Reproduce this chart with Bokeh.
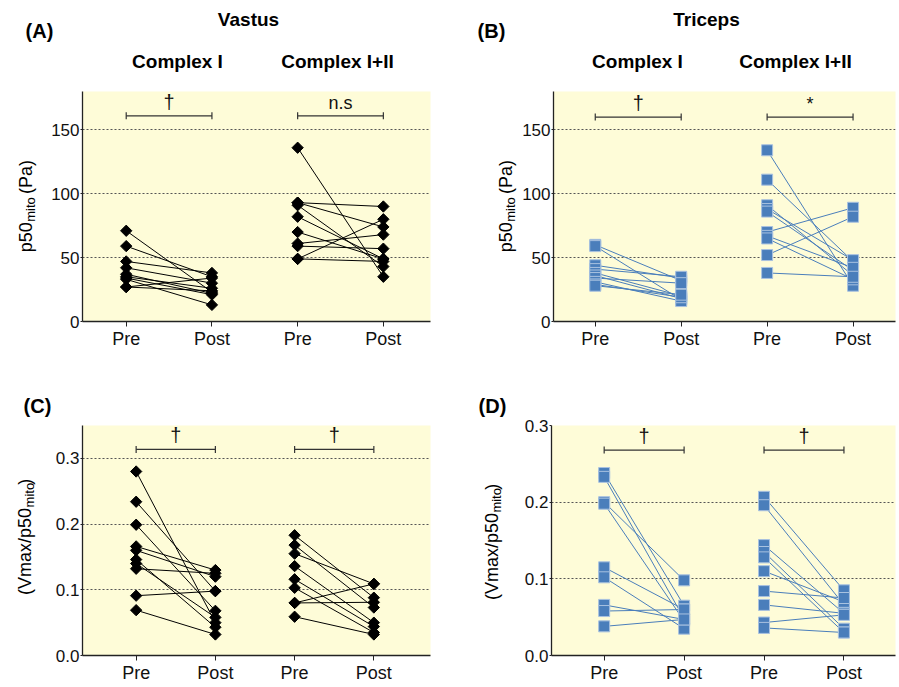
import math
from bokeh.plotting import figure
from bokeh.models import ColumnDataSource, Range1d, FixedTicker, Label, PrintfTickFormatter
from bokeh.layouts import column, row
from bokeh.core.properties import value
from bokeh.embed import file_html
from bokeh.resources import INLINE

FONT = "Liberation Sans"

# ---------------- data ----------------
x_tick_pos = [1, 2, 3, 4]
x_tick_labels = ["Pre", "Post", "Pre", "Post"]
y_ticks_p50 = [0, 50, 100, 150]
y_ticks_ratio = [0.0, 0.1, 0.2, 0.3]

# (A) Vastus, p50mito (Pa)
vastus_p50_ci_pre = [71, 59, 47, 42, 37, 35, 34, 33, 27, 27]
vastus_p50_ci_post = [23, 35, 38, 30, 22, 26, 21, 13, 24, 34]
vastus_p50_cii_pre = [136, 93, 93, 91, 82, 70, 61, 59, 49, 49]
vastus_p50_cii_post = [35, 90, 74, 43, 49, 49, 68, 57, 80, 47]

# (B) Triceps, p50mito (Pa)
triceps_p50_ci_pre = [60, 59, 44, 41, 38, 36, 34, 31, 29, 28]
triceps_p50_ci_post = [32, 17, 34, 35, 20, 18, 30, 16, 19, 21]
triceps_p50_cii_pre = [134, 111, 91, 88, 86, 70, 67, 65, 52, 38]
triceps_p50_cii_post = [28, 47, 36, 48, 40, 89, 42, 33, 82, 35]

# (C) Vastus, Vmax/p50mito
vastus_ratio_ci_pre = [0.280, 0.234, 0.199, 0.166, 0.160, 0.146, 0.140, 0.132, 0.091, 0.069]
vastus_ratio_ci_post = [0.050, 0.098, 0.068, 0.130, 0.120, 0.043, 0.058, 0.125, 0.098, 0.032]
vastus_ratio_cii_pre = [0.183, 0.168, 0.155, 0.136, 0.116, 0.103, 0.080, 0.080, 0.059]
vastus_ratio_cii_post = [0.088, 0.073, 0.109, 0.050, 0.044, 0.035, 0.109, 0.081, 0.032]

# (D) Triceps, Vmax/p50mito
triceps_ratio_ci_pre = [0.238, 0.233, 0.200, 0.198, 0.115, 0.102, 0.066, 0.058, 0.038]
triceps_ratio_ci_post = [0.065, 0.048, 0.098, 0.045, 0.060, 0.035, 0.047, 0.060, 0.047]
triceps_ratio_cii_pre = [0.207, 0.196, 0.144, 0.135, 0.128, 0.110, 0.084, 0.066, 0.043, 0.036]
triceps_ratio_cii_post = [0.085, 0.066, 0.055, 0.035, 0.030, 0.070, 0.075, 0.055, 0.053, 0.030]

# ---------------- styling helpers ----------------
YELLOW = "#FEFCD8"
BLUE = "#4A7EBB"
BLUE_EDGE = "#A9C2E0"

CHAR_W = {"p": 556, "5": 556, "0": 556, "m": 833, "i": 222, "t": 278, "o": 556,
          " ": 278, "(": 333, ")": 333, "P": 667, "a": 556, "V": 667, "x": 500, "/": 278}


def text_width(s, size):
    return sum(CHAR_W.get(c, 556) for c in s) * size / 1000.0


def make_fig(width, height, mbl, mbr, mbt, mbb, xr, yr, yticks, grid_ticks, fmt=None):
    p = figure(width=width, height=height, output_backend="svg", toolbar_location=None,
               x_range=Range1d(*xr), y_range=Range1d(*yr),
               min_border_left=mbl, min_border_right=mbr, min_border_top=mbt, min_border_bottom=mbb)
    p.background_fill_color = YELLOW
    p.border_fill_color = "white"
    p.outline_line_color = None
    p.xgrid.visible = False
    p.ygrid.ticker = FixedTicker(ticks=grid_ticks)
    p.ygrid.grid_line_color = "#555555"
    p.ygrid.grid_line_dash = "2 2"
    p.ygrid.grid_line_width = 1
    p.xaxis.ticker = FixedTicker(ticks=x_tick_pos)
    p.xaxis.major_label_overrides = {k: v for k, v in zip(x_tick_pos, x_tick_labels)}
    p.yaxis.ticker = FixedTicker(ticks=yticks)
    if fmt:
        p.yaxis.formatter = PrintfTickFormatter(format=fmt)
    for ax in (p.xaxis, p.yaxis):
        ax.axis_line_color = "#222222"
        ax.axis_line_width = 1.3
        ax.major_tick_line_color = "#222222"
        ax.major_tick_in = 0
        ax.minor_tick_line_color = None
        ax.major_label_text_font = FONT
        ax.major_label_text_color = "#111111"
    p.xaxis.major_tick_out = 5
    p.xaxis.major_label_text_font_size = "18px"
    p.xaxis.major_label_standoff = 2
    p.yaxis.major_tick_out = 2
    p.yaxis.major_label_text_font_size = "17px"
    p.yaxis.major_label_standoff = 1
    return p


def text_fig(width, height):
    t = figure(width=width, height=height, output_backend="svg", toolbar_location=None,
               x_range=Range1d(0, width), y_range=Range1d(0, height),
               x_axis_type=None, y_axis_type=None,
               min_border_left=0, min_border_right=0, min_border_top=0, min_border_bottom=0)
    t.grid.visible = False
    t.outline_line_color = None
    t.background_fill_color = "white"
    t.border_fill_color = "white"
    return t


def put_text(t, x, y, text, size, bold=False, angle=0.0, align="center", baseline="middle"):
    t.text(x=[x], y=[y], text=[text], angle=angle, text_align=align, text_baseline=baseline,
           text_font=value(FONT), text_font_size=value(f"{size}px"),
           text_font_style="bold" if bold else "normal", text_color="black")


def put_ylabel(t, main, sub, tail, xc, yc, size=18, subsize=13):
    """Vertical label: main text, subscript, tail text (reading bottom to top)."""
    w_main = text_width(main, size)
    w_sub = text_width(sub, subsize) * 1.1
    lead = len(tail) - len(tail.lstrip(" "))
    w_gap = text_width(" " * lead, size) * 1.3
    w_tail = text_width(tail.lstrip(" "), size)
    total = w_main + w_sub + w_gap + w_tail
    junction = yc - total / 2.0 + w_main
    up = math.pi / 2
    put_text(t, xc, junction, main, size, angle=up, align="right")
    put_text(t, xc + 5, junction + 0.5, sub, subsize, angle=up, align="left")
    put_text(t, xc, junction + w_sub + w_gap, tail.lstrip(" "), size, angle=up, align="left")


def add_pairs(p, pre, post, x0, style):
    n = len(pre)
    seg = ColumnDataSource(dict(x0=[x0] * n, y0=pre, x1=[x0 + 1] * n, y1=post))
    pts = ColumnDataSource(dict(x=[x0] * n + [x0 + 1] * n, y=list(pre) + list(post)))
    if style == "black":
        p.segment("x0", "y0", "x1", "y1", source=seg, line_color="black", line_width=1)
        p.scatter("x", "y", source=pts, marker="square", angle=math.pi / 4, size=8,
                  fill_color="black", line_color="black")
    else:
        p.segment("x0", "y0", "x1", "y1", source=seg, line_color=BLUE, line_width=1)
        p.scatter("x", "y", source=pts, marker="square", size=11,
                  fill_color=BLUE, line_color=BLUE_EDGE, line_width=1)


def add_bracket(p, xa, xb, y, text, size="20px"):
    p.segment(x0=[xa], y0=[y], x1=[xb], y1=[y], line_color="#333333", line_width=1.2)
    p.scatter(x=[xa, xb], y=[y, y], marker="dash", angle=math.pi / 2, size=7,
              line_color="#333333", line_width=1.2)
    p.add_layout(Label(x=(xa + xb) / 2, y=y, y_offset=3, text=text, text_align="center",
                       text_baseline="bottom", text_font=FONT, text_font_size=size,
                       text_color="#111111"))


# ---------------- header row (top) ----------------
head1 = text_fig(897, 91)
put_text(head1, 39, 61, "(A)", 20, bold=True)
put_text(head1, 248, 72, "Vastus", 19, bold=True)
put_text(head1, 177, 30, "Complex I", 19, bold=True)
put_text(head1, 337, 30, "Complex I+II", 19, bold=True)
put_text(head1, 491, 61, "(B)", 20, bold=True)
put_text(head1, 706, 72, "Triceps", 19, bold=True)
put_text(head1, 637, 30, "Complex I", 19, bold=True)
put_text(head1, 795, 30, "Complex I+II", 19, bold=True)

# ---------------- panel A ----------------
ylA = text_fig(44, 274)
put_ylabel(ylA, "p50", "mito", " (Pa)", 25, 137)
pA = make_fig(426, 274, 38, 40, 0, 44, (0.49, 4.55), (0, 180), y_ticks_p50, [50, 100, 150])
add_pairs(pA, vastus_p50_ci_pre, vastus_p50_ci_post, 1, "black")
add_pairs(pA, vastus_p50_cii_pre, vastus_p50_cii_post, 3, "black")
add_bracket(pA, 1, 2, 161, "†")
add_bracket(pA, 3, 4, 161, "n.s", size="18px")

# ---------------- panel B ----------------
ylB = text_fig(49, 274)
put_ylabel(ylB, "p50", "mito", " (Pa)", 35, 137)
pB = make_fig(378, 274, 32, 2, 0, 44, (0.514, 4.494), (0, 180), y_ticks_p50, [50, 100, 150])
add_pairs(pB, triceps_p50_ci_pre, triceps_p50_ci_post, 1, "blue")
add_pairs(pB, triceps_p50_cii_pre, triceps_p50_cii_post, 3, "blue")
add_bracket(pB, 1, 2, 160, "†")
add_bracket(pB, 3, 4, 160, "*", size="18px")

# ---------------- header row (bottom) ----------------
head2 = text_fig(897, 52)
put_text(head2, 37, 12, "(C)", 20, bold=True)
put_text(head2, 492, 12, "(D)", 20, bold=True)

# ---------------- panel C ----------------
ylC = text_fig(44, 268)
put_ylabel(ylC, "(Vmax/p50", "mito", ")", 24, 145)
pC = make_fig(426, 268, 38, 40, 8, 30, (0.323, 4.715), (0, 0.35), y_ticks_ratio,
              [0.1, 0.2, 0.3], fmt="%.1f")
add_pairs(pC, vastus_ratio_ci_pre, vastus_ratio_ci_post, 1, "black")
add_pairs(pC, vastus_ratio_cii_pre, vastus_ratio_cii_post, 3, "black")
add_bracket(pC, 1, 2, 0.3136, "†")
add_bracket(pC, 3, 4, 0.3136, "†")

# ---------------- panel D ----------------
ylD = text_fig(49, 268)
put_ylabel(ylD, "(Vmax/p50", "mito", ")", 21, 139)
pD = make_fig(378, 268, 32, 2, 8, 30, (0.341, 4.645), (0, 0.3), y_ticks_ratio,
              [0.1, 0.2, 0.3], fmt="%.1f")
add_pairs(pD, triceps_ratio_ci_pre, triceps_ratio_ci_post, 1, "blue")
add_pairs(pD, triceps_ratio_cii_pre, triceps_ratio_cii_post, 3, "blue")
add_bracket(pD, 1, 2, 0.268, "†")
add_bracket(pD, 3, 4, 0.268, "†")

layout = column(head1, row(ylA, pA, ylB, pB), head2, row(ylC, pC, ylD, pD))

open("out.html", "w").write(file_html(layout, INLINE))
